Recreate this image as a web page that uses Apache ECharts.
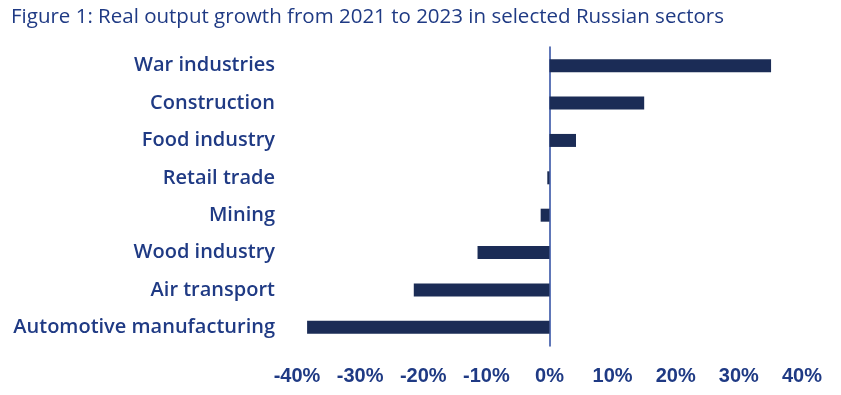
<!DOCTYPE html>
<html>
<head>
<meta charset="utf-8">
<script src="https://cdn.jsdelivr.net/npm/echarts@6/dist/echarts.min.js"></script>
<style>
html,body{margin:0;padding:0;background:#fff;}
#chart{width:841px;height:395px;}
</style>
</head>
<body>
<div id="chart"></div>
<script>
var titleText = 'Figure 1: Real output growth from 2021 to 2023 in selected Russian sectors';
var categories = ['War industries','Construction','Food industry','Retail trade','Mining','Wood industry','Air transport','Automotive manufacturing'];
var growthValues = [35.1, 15.0, 4.2, -0.35, -1.4, -11.4, -21.5, -38.4];
var tickMin = -40, tickMax = 40, tickStep = 10;

var textColor = '#1f3a84';
var chart = echarts.init(document.getElementById('chart'), null, {renderer:'canvas'});
chart.setOption({
  animation:false,
  title:{
    text:titleText, left:6, top:2,
    textStyle:{fontFamily:'Open Sans', fontSize:20.5, fontWeight:'normal', color:textColor}
  },
  grid:{left:297, right:39, top:47, bottom:49, containLabel:false, outerBoundsMode:'none'},
  xAxis:{
    type:'value', min:tickMin, max:tickMax, interval:tickStep,
    axisLine:{show:false}, axisTick:{show:false}, splitLine:{show:false},
    axisLabel:{
      margin:20, color:textColor, fontFamily:'Liberation Sans', fontWeight:'bold', fontSize:20,
      formatter:function(v){return v+'%';}
    }
  },
  yAxis:{
    type:'category', data:categories, inverse:true,
    axisLine:{show:true, onZero:true, lineStyle:{color:'#2b4aa0', width:1.5}},
    axisTick:{show:false},
    axisLabel:{
      margin:22, color:textColor, fontFamily:'Open Sans', fontWeight:600, fontSize:20, align:'right'
    }
  },
  series:[{
    type:'bar', data:growthValues, barWidth:13,
    itemStyle:{color:'#1b2c56'}
  }]
});
</script>
</body>
</html>
